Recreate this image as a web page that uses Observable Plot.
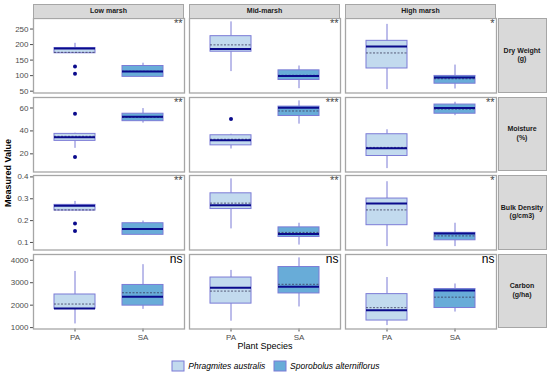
<!DOCTYPE html>
<html><head><meta charset="utf-8">
<script src="https://cdn.jsdelivr.net/npm/d3@7"></script>
<script src="https://cdn.jsdelivr.net/npm/@observablehq/plot@0.6"></script>
<style>
body{margin:0;background:#fff;font-family:"Liberation Sans",Arial,sans-serif;}
#chart{position:relative;width:550px;height:377px;overflow:hidden;background:#fff}
.strip{position:absolute;background:#d9d9d9;border:1px solid #a6a6a6;box-sizing:border-box;display:flex;align-items:center;justify-content:center;text-align:center;font-weight:bold;font-size:7px;color:#1a1a1a;line-height:1.25;white-space:pre-line}
.row{position:absolute;left:0}
.ttl{position:absolute;color:#000;white-space:nowrap}
.lg span{font-style:italic}
.lg svg rect{stroke:#7b7bd6;stroke-width:1}
</style></head><body><div id="chart"></div>
<script>
const marshes = ["Low marsh", "Mid-marsh", "High marsh"];
const species = ["PA", "SA"];
const speciesNames = ["Phragmites australis", "Sporobolus alterniflorus"];
const variables = ["Dry Weight\n(g)", "Moisture\n(%)", "Bulk Density\n(g/cm3)", "Carbon\n(g/ha)"];
const yTicks = [[50, 100, 150, 200, 250], [20, 40, 60], [0.1, 0.2, 0.3, 0.4], [1000, 2000, 3000, 4000]];
// per variable, order: Low PA, Low SA, Mid PA, Mid SA, High PA, High SA
const whiskerLow = [172, 94, 113, 58, 55, 57,
  24.8, 46.8, 24.2, 45.9, 7.1, 53.3,
  0.246, 0.133, 0.162, 0.088, 0.081, 0.081,
  1163, 1813, 1285, 1919, 1089, 1692];
const q1 = [172, 96, 177, 86, 123, 74,
  31.3, 48.5, 27.4, 53, 18.1, 55,
  0.246, 0.135, 0.253, 0.125, 0.179, 0.110,
  1830, 1979, 2069, 2522, 1315, 1873];
const median = [187, 113, 186, 99, 194, 94,
  34.5, 52.4, 31.8, 60.3, 24.8, 60,
  0.268, 0.162, 0.270, 0.139, 0.278, 0.141,
  1850, 2371, 2778, 2824, 1768, 2658];
const mean = [175, 114, 199, 101, 173, 90,
  35.3, 51.8, 32.7, 57.4, 25.6, 59.1,
  0.249, 0.163, 0.280, 0.146, 0.249, 0.130,
  2050, 2552, 2627, 2929, 1888, 2356];
const q3 = [189, 131, 227, 117, 212, 99,
  37.4, 55, 36.2, 61.2, 37.1, 63,
  0.272, 0.188, 0.325, 0.169, 0.301, 0.144,
  2475, 2900, 3231, 3698, 2492, 2718];
const whiskerHigh = [204, 140, 273, 131, 265, 134,
  38, 59.5, 37.1, 66.2, 41, 65,
  0.288, 0.198, 0.391, 0.188, 0.378, 0.188,
  3502, 3804, 3548, 4106, 3231, 2944];
const outlierVariable = [0, 0, 1, 1, 1, 2, 2];
const outlierGroup = [0, 0, 0, 0, 2, 0, 0];
const outlierValue = [129, 106, 55, 17.2, 50.3, 0.187, 0.153];
const significance = ["**", "**", "*", "**", "***", "**", "**", "**", "*", "ns", "ns", "ns"];

const colors = ["#c2daee", "#68acd8"];
const edge = "#7b7bd6";

const boxes = [];
variables.forEach((v, vi) => {
  for (let g = 0; g < 6; g++) {
    const k = vi * 6 + g;
    boxes.push({vi, marsh: marshes[Math.floor(g / 2)], species: species[g % 2],
      lo: whiskerLow[k], q1: q1[k], median: median[k], mean: mean[k], q3: q3[k], hi: whiskerHigh[k]});
  }
});
const outs = outlierValue.map((value, i) => ({vi: outlierVariable[i],
  marsh: marshes[Math.floor(outlierGroup[i] / 2)], species: species[outlierGroup[i] % 2], value}));
const sigs = significance.map((s, i) => ({vi: Math.floor(i / 3), marsh: marshes[i % 3], s}));

const chart = document.getElementById("chart");
const panelTops = [18, 96.5, 175, 253.5];
const panelH = 74.5;
const mL = 32, mR = 53;
let fxScale = null;

variables.forEach((v, vi) => {
  const last = vi === variables.length - 1;
  const d = boxes.filter(b => b.vi === vi);
  const o = outs.filter(b => b.vi === vi);
  const s = sigs.filter(b => b.vi === vi);
  const mn = d3.min([...d.map(b => b.lo), ...o.map(b => b.value)]);
  const mx = d3.max([...d.map(b => b.hi), ...o.map(b => b.value)]);
  const pad = (mx - mn) * 0.05;
  const mT = 2, mB = last ? 24 : 2;
  const p = Plot.plot({
    width: 550, height: panelH + mT + mB,
    marginLeft: mL, marginRight: mR, marginTop: mT, marginBottom: mB,
    style: {fontFamily: "Liberation Sans, Arial, sans-serif", fontSize: "8px", color: "#4d4d4d", background: "transparent", overflow: "visible"},
    fx: {domain: marshes, paddingInner: 0.032, paddingOuter: 0, axis: null, label: null},
    x: {domain: species, paddingInner: 0.4, paddingOuter: 0.3, axis: last ? "bottom" : null, label: null, tickSize: 3, tickPadding: 2},
    y: {domain: [mn - pad, mx + pad], ticks: yTicks[vi], tickSize: 3, tickPadding: 2, label: null, tickFormat: t => String(t)},
    color: {domain: species, range: colors},
    marks: [
      Plot.ruleX(d, {fx: "marsh", x: "species", y1: "lo", y2: "q1", stroke: edge, strokeWidth: 1}),
      Plot.ruleX(d, {fx: "marsh", x: "species", y1: "q3", y2: "hi", stroke: edge, strokeWidth: 1}),
      Plot.barY(d, {fx: "marsh", x: "species", y1: "q1", y2: "q3", fill: "species", stroke: edge, strokeWidth: 1}),
      Plot.tickY(d, {fx: "marsh", x: "species", y: "mean", stroke: "#3a3a5a", strokeWidth: 0.8, strokeDasharray: "2,1.5"}),
      Plot.tickY(d, {fx: "marsh", x: "species", y: "median", stroke: "#0a0a8c", strokeWidth: 2}),
      Plot.dot(o, {fx: "marsh", x: "species", y: "value", fill: "#0a0a8c", r: 2}),
      Plot.text(s, {fx: "marsh", text: "s", frameAnchor: "top-right", dx: -2, dy: last ? 0 : 1,
        fontSize: last ? 12 : 11, fill: last ? "#000" : "#444", lineAnchor: "top", textAnchor: "end"}),
      Plot.frame({stroke: "#a6a6a6", strokeWidth: 1.3})
    ]
  });
  p.classList.add("row");
  p.style.top = (panelTops[vi] - mT) + "px";
  p.style.position = "absolute";
  chart.appendChild(p);
  if (!fxScale) fxScale = p.scale("fx");

  const rs = document.createElement("div");
  rs.className = "strip";
  rs.style.left = "497.5px";
  rs.style.top = panelTops[vi] + "px";
  rs.style.width = "49px";
  rs.style.height = panelH + "px";
  rs.textContent = v;
  chart.appendChild(rs);
});

marshes.forEach(m => {
  const st = document.createElement("div");
  st.className = "strip";
  const x0 = fxScale.apply(m);
  st.style.left = x0 + "px";
  st.style.top = "4px";
  st.style.width = fxScale.bandwidth + "px";
  st.style.height = "14.5px";
  st.textContent = m;
  chart.appendChild(st);
});

const yt = document.createElement("div");
yt.className = "ttl";
yt.textContent = "Measured Value";
yt.style.cssText += "font-weight:bold;font-size:9px;left:8px;top:173px;transform:translate(-50%,-50%) rotate(-90deg);";
chart.appendChild(yt);

const xt = document.createElement("div");
xt.className = "ttl";
xt.textContent = "Plant Species";
xt.style.cssText += "font-size:9px;left:265px;top:346px;transform:translate(-50%,-50%);";
chart.appendChild(xt);

const lgWrap = document.createElement("div");
lgWrap.className = "lg";
lgWrap.style.cssText = "position:absolute;left:0;top:349px;width:560px;display:flex;justify-content:center;";
const lg = Plot.legend({
  color: {domain: species, range: colors},
  tickFormat: d => speciesNames[species.indexOf(d)],
  swatchWidth: 12, swatchHeight: 10,
  style: {fontFamily: "Liberation Sans, Arial, sans-serif", fontSize: "8.5px", color: "#000", marginLeft: "0"}
});
lgWrap.appendChild(lg);
chart.appendChild(lgWrap);
</script></body></html>
